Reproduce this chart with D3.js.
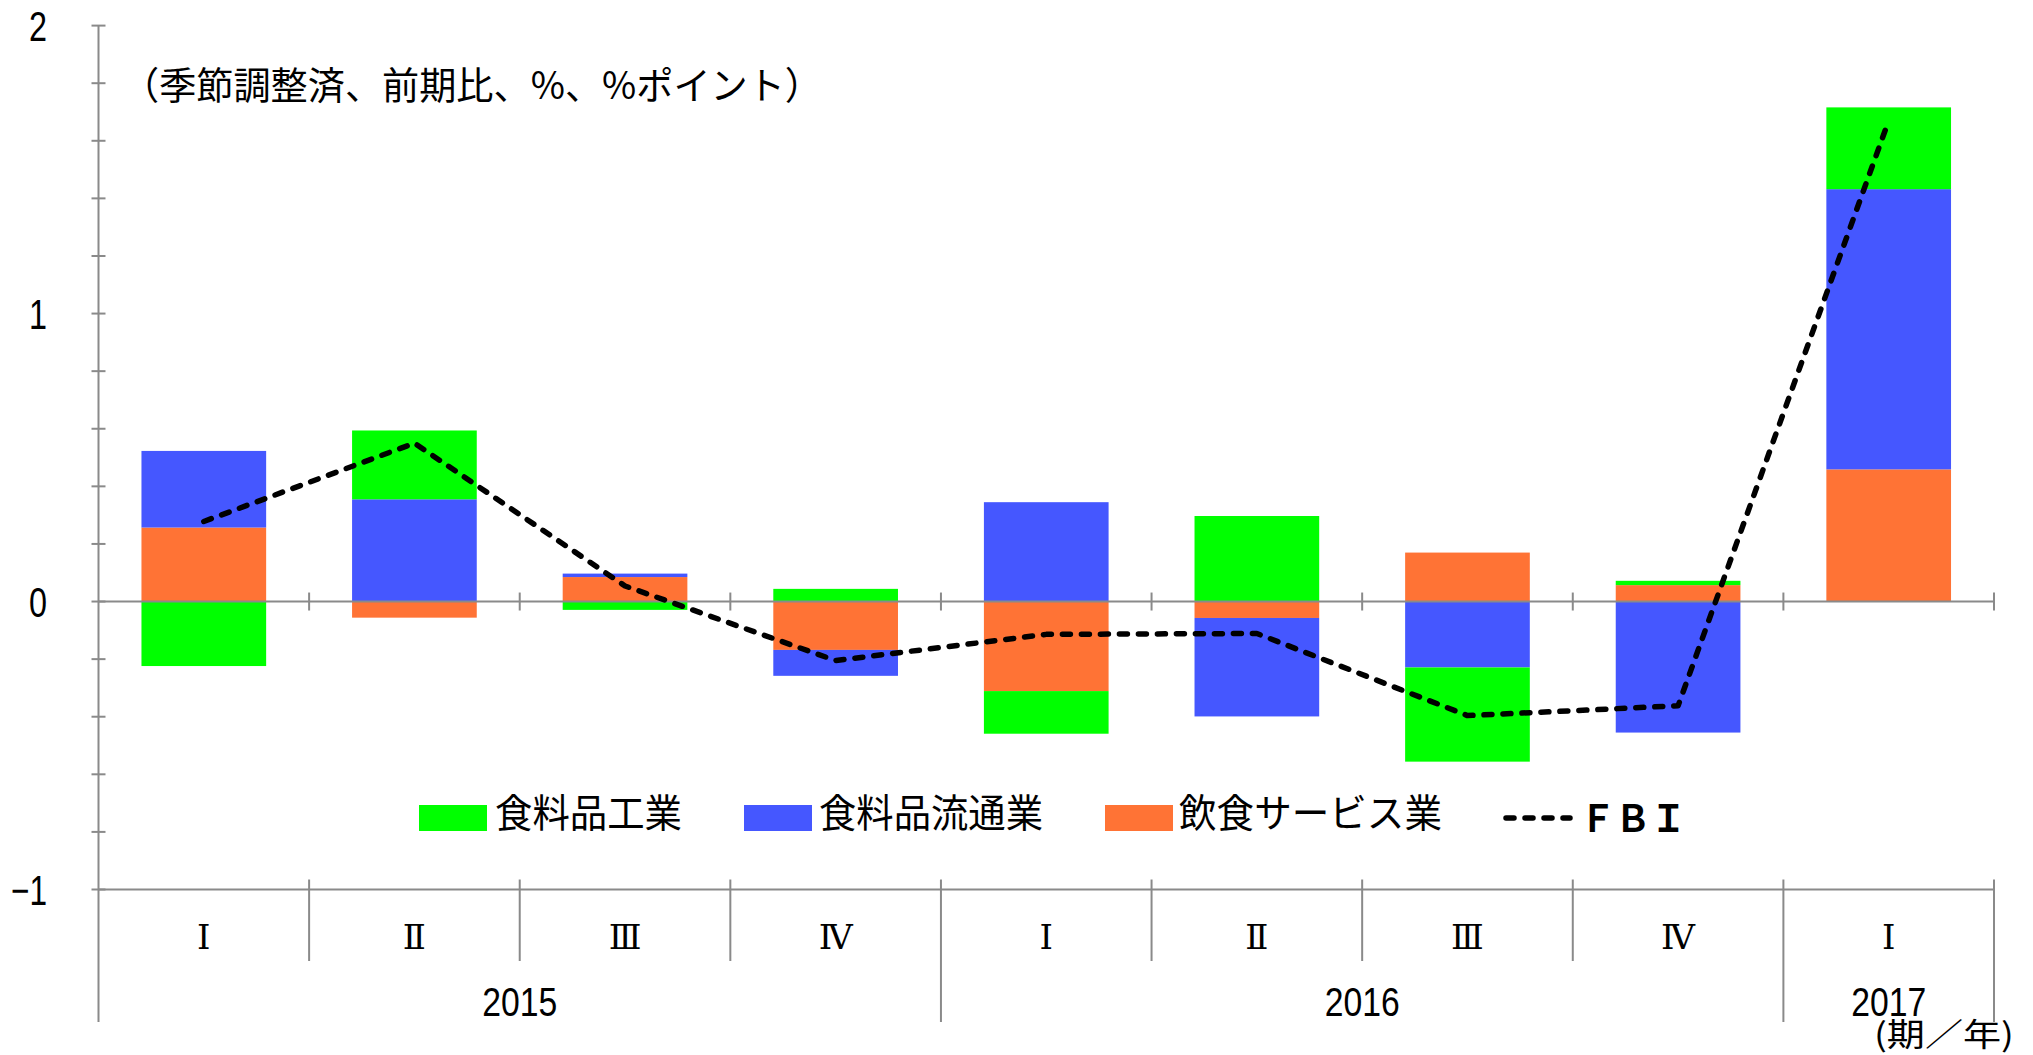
<!DOCTYPE html>
<html>
<head>
<meta charset="utf-8">
<script src="https://cdn.jsdelivr.net/npm/d3@7"></script>
<style>
  html, body { margin: 0; padding: 0; background: #fff; }
  svg { display: block; }
</style>
</head>
<body>
<svg id="chart" width="2033" height="1055"></svg>
<script>
// ---- data ----
const quarters = ["Ⅰ", "Ⅱ", "Ⅲ", "Ⅳ", "Ⅰ", "Ⅱ", "Ⅲ", "Ⅳ", "Ⅰ"];
const years = ["2015", "2016", "2017"];
const yearSpans = [4, 4, 1];
const seriesNames = ["食料品工業", "食料品流通業", "飲食サービス業"];
const foodIndustry = [-0.224, 0.239, -0.029, 0.044, -0.148, 0.297, -0.327, 0.015, 0.284];
const foodDistribution = [0.266, 0.355, 0.012, -0.090, 0.345, -0.342, -0.229, -0.455, 0.973];
const foodService = [0.257, -0.056, 0.085, -0.168, -0.311, -0.057, 0.170, 0.057, 0.459];
const fbi = [0.278, 0.550, 0.054, -0.205, -0.114, -0.111, -0.396, -0.362, 1.670];
const fbiName = "ＦＢＩ";
const yTickValues = [-1, 0, 1, 2];
const yTickLabels = ["−1", "0", "1", "2"];
const unitNote = "（季節調整済、前期比、%、%ポイント）";
const axisNote = "(期／年)";

// ---- layout ----
const svg = d3.select("#chart");
const plotLeft = 98.5, plotRight = 1994, plotTop = 25.6, plotBottom = 889.5;
const colors = { green: "#00ff00", blue: "#4557ff", orange: "#ff7335" };
const axisColor = "#8a8a8a";
const numFont = "'Liberation Sans', Arial, sans-serif";
const jpFont = "'Noto Sans CJK JP', 'Noto Sans CJK SC', sans-serif";

const idx = d3.range(quarters.length);
const x = d3.scaleBand().domain(idx).range([plotLeft, plotRight]).paddingInner(0.408).paddingOuter(0.204);
const step = x.step();
const xEdge = i => plotLeft + i * step;
const xc = i => x(i) + x.bandwidth() / 2;
const y = d3.scaleLinear().domain([-1, 2]).range([plotBottom, plotTop]);

// ---- bars ----
const rows = idx.map(i => ({ i, orange: foodService[i], blue: foodDistribution[i], green: foodIndustry[i] }));
const stack = d3.stack().keys(["orange", "blue", "green"]).offset(d3.stackOffsetDiverging);
const layers = stack(rows);
svg.append("g").selectAll("g").data(layers).join("g")
  .attr("fill", d => colors[d.key])
  .selectAll("rect").data(d => d).join("rect")
  .attr("x", d => x(d.data.i))
  .attr("width", x.bandwidth())
  .attr("y", d => y(Math.max(d[0], d[1])))
  .attr("height", d => Math.abs(y(d[0]) - y(d[1])));

// ---- y axis ----
const g = svg.append("g").attr("stroke", axisColor).attr("stroke-width", 2);
g.append("line").attr("x1", plotLeft).attr("x2", plotLeft).attr("y1", y(2)).attr("y2", 1022);
const minorTicks = d3.range(-5, 11).map(k => k / 5);
g.selectAll("line.tick").data(minorTicks).join("line").attr("class", "tick")
  .attr("x1", plotLeft - 7).attr("x2", plotLeft + 7)
  .attr("y1", d => y(d)).attr("y2", d => y(d));

// zero line with category ticks
g.append("line").attr("x1", plotLeft).attr("x2", plotRight).attr("y1", y(0)).attr("y2", y(0));
g.selectAll("line.ztick").data(d3.range(1, quarters.length + 1)).join("line").attr("class", "ztick")
  .attr("x1", d => xEdge(d)).attr("x2", d => xEdge(d))
  .attr("y1", y(0) - 9).attr("y2", y(0) + 9);

// bottom axis line (-1)
g.append("line").attr("x1", plotLeft).attr("x2", plotRight).attr("y1", y(-1)).attr("y2", y(-1));
// quarter dividers
const yearBounds = [0];
yearSpans.reduce((a, s) => { yearBounds.push(a + s); return a + s; }, 0);
g.selectAll("line.qdiv").data(d3.range(1, quarters.length + 1)).join("line").attr("class", "qdiv")
  .attr("x1", d => xEdge(d)).attr("x2", d => xEdge(d))
  .attr("y1", y(-1) - 10)
  .attr("y2", d => yearBounds.includes(d) ? 1022 : 961);

// y tick labels (condensed like the reference)
svg.append("g").selectAll("text").data(yTickValues).join("text")
  .attr("x", 47).attr("y", d => y(d) + 15)
  .attr("text-anchor", "end")
  .attr("font-family", numFont).attr("font-size", 42).attr("fill", "#000")
  .attr("textLength", (d, i) => yTickLabels[i].length > 1 ? 36 : 18)
  .attr("lengthAdjust", "spacingAndGlyphs")
  .text((d, i) => yTickLabels[i]);

// quarter labels
svg.append("g").selectAll("text").data(idx).join("text")
  .attr("x", i => xc(i)).attr("y", 949)
  .attr("text-anchor", "middle")
  .attr("font-family", "'DejaVu Serif', 'Liberation Serif', serif")
  .attr("font-size", 34).attr("fill", "#000")
  .text(i => quarters[i]);

// year labels
svg.append("g").selectAll("text").data(years).join("text")
  .attr("x", (d, k) => (xEdge(yearBounds[k]) + xEdge(yearBounds[k + 1])) / 2)
  .attr("y", 1016)
  .attr("text-anchor", "middle")
  .attr("font-family", numFont).attr("font-size", 40).attr("fill", "#000")
  .attr("textLength", 75).attr("lengthAdjust", "spacingAndGlyphs")
  .text(d => d);

// axis note
svg.append("text").attr("x", 2014).attr("y", 1046).attr("text-anchor", "end")
  .attr("font-family", jpFont).attr("font-size", 32).attr("fill", "#000")
  .attr("textLength", 140).attr("lengthAdjust", "spacingAndGlyphs")
  .text(axisNote);

// unit note
svg.append("text").attr("x", 122).attr("y", 99)
  .attr("font-family", jpFont).attr("font-size", 38).attr("fill", "#000")
  .attr("textLength", 700).attr("lengthAdjust", "spacingAndGlyphs")
  .text(unitNote);

// ---- FBI line ----
const dash = { width: 5.5, array: "8,11" };
const line = d3.line().x((d, i) => xc(i)).y(d => y(d));
svg.append("path").datum(fbi)
  .attr("d", line).attr("fill", "none").attr("stroke", "#000")
  .attr("stroke-width", dash.width).attr("stroke-dasharray", dash.array)
  .attr("stroke-linecap", "round").attr("stroke-linejoin", "round");

// ---- legend ----
const legend = svg.append("g");
const legendItems = [
  { name: seriesNames[0], color: colors.green, rx: 419, tx: 495, tw: 187 },
  { name: seriesNames[1], color: colors.blue, rx: 744, tx: 819, tw: 224 },
  { name: seriesNames[2], color: colors.orange, rx: 1105, tx: 1179, tw: 263 }
];
legendItems.forEach(it => {
  legend.append("rect").attr("x", it.rx).attr("y", 805).attr("width", 68).attr("height", 26).attr("fill", it.color);
  legend.append("text").attr("x", it.tx).attr("y", 827)
    .attr("font-family", jpFont).attr("font-size", 39).attr("fill", "#000")
    .attr("textLength", it.tw).attr("lengthAdjust", "spacingAndGlyphs")
    .text(it.name);
});
legend.append("line").attr("x1", 1506).attr("x2", 1570).attr("y1", 818).attr("y2", 818)
  .attr("stroke", "#000").attr("stroke-width", dash.width).attr("stroke-dasharray", dash.array)
  .attr("stroke-linecap", "round");
legend.append("text").attr("x", 1580).attr("y", 832)
  .attr("font-family", jpFont).attr("font-weight", "bold").attr("font-size", 37).attr("fill", "#000")
  .attr("textLength", 106).attr("lengthAdjust", "spacingAndGlyphs")
  .text(fbiName);
</script>
</body>
</html>
